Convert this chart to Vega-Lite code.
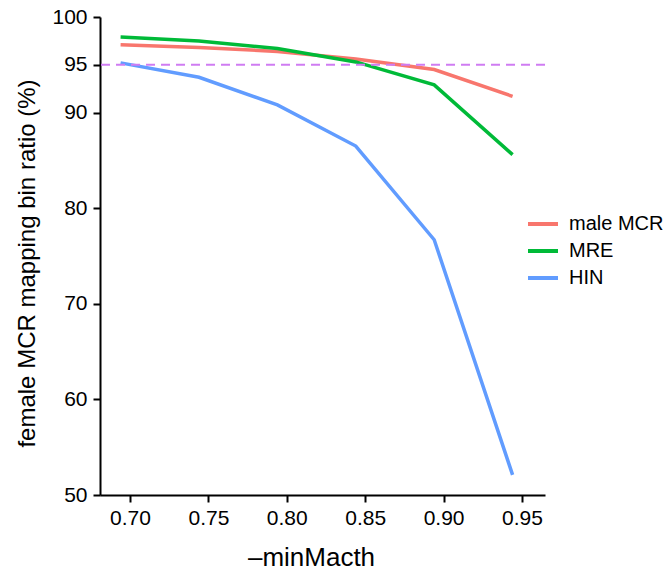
{
  "$schema": "https://vega.github.io/schema/vega-lite/v6.json",
  "width": 445,
  "height": 478,
  "autosize": {"type": "none"},
  "padding": {"left": 100, "top": 17, "right": 122, "bottom": 77},
  "background": "white",
  "config": {
    "view": {"stroke": null},
    "font": "Liberation Sans",
    "axis": {
      "grid": false,
      "domainColor": "black",
      "domainWidth": 2,
      "tickColor": "black",
      "tickWidth": 2,
      "tickSize": 7,
      "labelColor": "black",
      "labelFont": "Liberation Sans",
      "labelFontSize": 21,
      "titleFont": "Liberation Sans",
      "titleFontSize": 25,
      "titleFontWeight": "normal",
      "titleColor": "black"
    }
  },
  "datasets": {
    "lines": [
      {"x": 0.694, "y": 97.1, "group": "male MCR"},
      {"x": 0.744, "y": 96.8, "group": "male MCR"},
      {"x": 0.794, "y": 96.4, "group": "male MCR"},
      {"x": 0.844, "y": 95.6, "group": "male MCR"},
      {"x": 0.894, "y": 94.5, "group": "male MCR"},
      {"x": 0.944, "y": 91.7, "group": "male MCR"},
      {"x": 0.694, "y": 97.9, "group": "MRE"},
      {"x": 0.744, "y": 97.5, "group": "MRE"},
      {"x": 0.794, "y": 96.7, "group": "MRE"},
      {"x": 0.844, "y": 95.3, "group": "MRE"},
      {"x": 0.894, "y": 92.9, "group": "MRE"},
      {"x": 0.944, "y": 85.6, "group": "MRE"},
      {"x": 0.694, "y": 95.2, "group": "HIN"},
      {"x": 0.744, "y": 93.7, "group": "HIN"},
      {"x": 0.794, "y": 90.8, "group": "HIN"},
      {"x": 0.844, "y": 86.5, "group": "HIN"},
      {"x": 0.894, "y": 76.7, "group": "HIN"},
      {"x": 0.944, "y": 52.1, "group": "HIN"}
    ],
    "ref": [{"y": 95}]
  },
  "layer": [
    {
      "data": {"name": "lines"},
      "mark": {"type": "line", "strokeWidth": 3.5},
      "encoding": {
        "x": {
          "field": "x",
          "type": "quantitative",
          "scale": {"domain": [0.68087, 0.96467], "nice": false, "zero": false},
          "axis": {
            "values": [0.7, 0.75, 0.8, 0.85, 0.9, 0.95],
            "format": ".2f",
            "title": "–minMacth",
            "labelPadding": 5,
            "titleFontSize": 26,
            "titleX": 211,
            "titleY": 70,
            "titleBaseline": "alphabetic",
            "titleAnchor": "middle"
          }
        },
        "y": {
          "field": "y",
          "type": "quantitative",
          "scale": {"domain": [50, 100], "nice": false, "zero": false},
          "axis": {
            "values": [50, 60, 70, 80, 90, 95, 100],
            "title": "female MCR mapping bin ratio (%)",
            "labelPadding": 6,
            "titleFontSize": 24,
            "titleX": -73,
            "titleY": 246,
            "titleBaseline": "middle",
            "titleAnchor": "middle"
          }
        },
        "color": {
          "field": "group",
          "type": "nominal",
          "scale": {"domain": ["male MCR", "MRE", "HIN"], "range": ["#F8766D", "#00BA38", "#619CFF"]},
          "legend": {
            "title": null,
            "orient": "none",
            "legendX": 426,
            "legendY": 195,
            "padding": 0,
            "symbolType": "stroke",
            "symbolSize": 900,
            "symbolStrokeWidth": 4,
            "clipHeight": 24,
            "rowPadding": 3,
            "labelFont": "Liberation Sans",
            "labelFontSize": 20,
            "labelColor": "black",
            "labelOffset": 9
          }
        }
      }
    },
    {
      "data": {"name": "ref"},
      "mark": {"type": "rule", "color": "#CF7CF2", "strokeWidth": 2, "strokeDash": [9, 6]},
      "encoding": {
        "y": {"field": "y", "type": "quantitative"}
      }
    }
  ]
}
